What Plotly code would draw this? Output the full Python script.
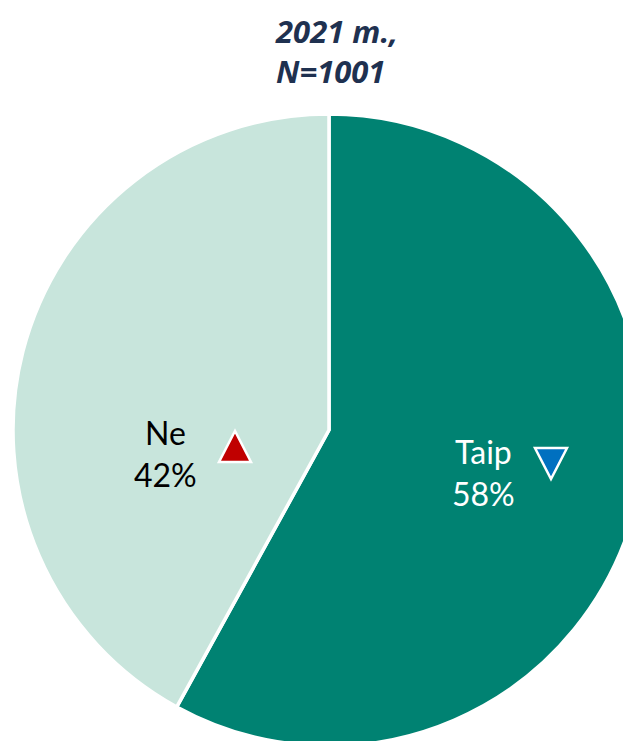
import plotly.graph_objects as go

labels = ["Taip", "Ne"]
values = [58, 42]
colors = ["#008272", "#C8E5DC"]
title_lines = ["2021 m.,", "N=1001"]
arrow_dirs = ["down", "up"]
arrow_colors = ["#0070C0", "#C00000"]
label_colors = ["white", "black"]

W, H = 642, 760
OFF = 8  # page offset of the plot div


def px(x):
    return (x - OFF) / W


def py(y):
    return 1 - (y - OFF) / H


cy = 430 - OFF
R = 316

fig = go.Figure()
fig.add_trace(go.Pie(
    labels=labels, values=values, sort=False, direction="clockwise", rotation=0,
    marker=dict(colors=colors, line=dict(color="white", width=3.5)),
    textinfo="none", hoverinfo="label+percent", showlegend=False,
    domain=dict(x=[0, 1], y=[(H - cy - R) / H, (H - cy + R) / H]),
))

label_pos = [(483, 473), (165, 453)]
arrow_pos = [(551, 463), (235, 447)]

for i, lab in enumerate(labels):
    fig.add_annotation(x=px(label_pos[i][0]), y=py(label_pos[i][1]), xref="paper", yref="paper",
                       xanchor="center", yanchor="middle",
                       text=f"{lab}<br>{values[i]}%", showarrow=False,
                       font=dict(family="Lato", size=32, color=label_colors[i]),
                       align="center")
    s = 1 if arrow_dirs[i] == "up" else -1
    path = f"M -16 {-15 * s} L 16 {-15 * s} L 0 {16 * s} Z"
    fig.add_shape(type="path", xref="paper", yref="paper", xsizemode="pixel", ysizemode="pixel",
                  xanchor=px(arrow_pos[i][0]), yanchor=py(arrow_pos[i][1]), path=path,
                  fillcolor=arrow_colors[i], line=dict(color="white", width=2.5), layer="above")

fig.add_annotation(x=px(273), y=1, xref="paper", yref="paper", xanchor="left", yanchor="top",
                   text="<br>".join(f"<b><i>{t}</i></b>" for t in title_lines), showarrow=False,
                   font=dict(family="Open Sans", size=31, color="#1F3150"), align="left")

fig.update_layout(
    width=W, height=H, margin=dict(l=0, r=0, t=0, b=0),
    paper_bgcolor="white",
)

fig.write_html("out.html")
